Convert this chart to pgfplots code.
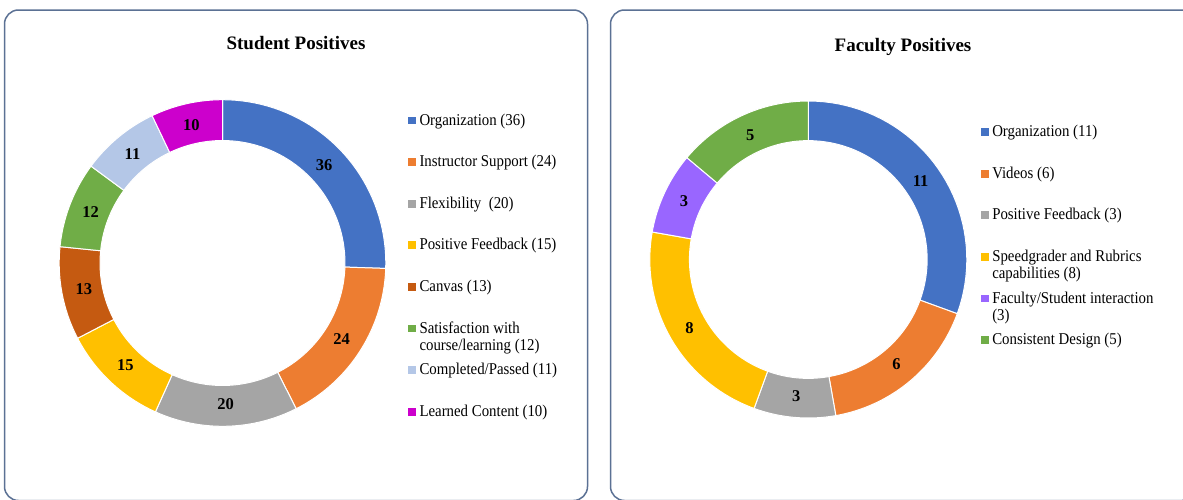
\documentclass[border=0pt]{standalone}
\usepackage{fontspec}
\setmainfont{Liberation Serif}
\newfontfamily\legfont{Liberation Serif}[FakeStretch=0.9]
\usepackage{pgfplots}
\pgfplotsset{compat=1.18}

\definecolor{sBlue}{HTML}{4472C4}
\definecolor{sOrange}{HTML}{ED7D31}
\definecolor{sGray}{HTML}{A5A5A5}
\definecolor{sGold}{HTML}{FFC000}
\definecolor{sRust}{HTML}{C55A11}
\definecolor{sGreen}{HTML}{70AD47}
\definecolor{sLight}{HTML}{B4C7E7}
\definecolor{sMag}{HTML}{CC00CC}
\definecolor{fPurple}{HTML}{9966FF}
\definecolor{boxc}{HTML}{5B7194}

\newcommand{\mtwo}[2]{\begin{tabular}[t]{@{}l@{}}#1\\#2\end{tabular}}
\newcommand{\labelfont}{\fontsize{16.5bp}{18bp}\selectfont\bfseries}

% #1 total, #2 list value/colour
\newcommand{\donutslices}[2]{%
  \gdef\cum{0}%
  \foreach \val/\col in {#2} {%
    \pgfmathsetmacro{\sa}{90-\cum/#1*360}%
    \pgfmathsetmacro{\newcum}{\cum+\val}%
    \pgfmathsetmacro{\sb}{90-\newcum/#1*360}%
    \pgfmathsetmacro{\sd}{\sb-\sa}%
    \global\let\cum\newcum
    \edef\cmd{\noexpand\addplot[fill=\col, draw=white, line width=1bp, domain=0:3, samples=121]
      ({(1-0.25*min(max(x-1,0),1))*cos((\sa)+(\sd)*min(x,1)-(\sd)*max(x-2,0))},
       {(1-0.25*min(max(x-1,0),1))*sin((\sa)+(\sd)*min(x,1)-(\sd)*max(x-2,0))}) -- cycle;}%
    \cmd
  }%
  \gdef\cum{0}%
  \foreach \val/\col in {#2} {%
    \pgfmathsetmacro{\newcum}{\cum+\val}%
    \pgfmathsetmacro{\sm}{90-(\cum+\newcum)/2/#1*360}%
    \pgfmathsetmacro{\lx}{0.865*cos(\sm)}%
    \pgfmathsetmacro{\ly}{0.865*sin(\sm)}%
    \global\let\cum\newcum
    \edef\cmd{\noexpand\addplot[forget plot, draw=none, mark=none, nodes near coords,
      point meta=explicit symbolic,
      nodes near coords style={anchor=center, font=\noexpand\labelfont, text=black}]
      coordinates {(\lx,\ly) [\val]};}%
    \cmd
  }%
}

\pgfplotsset{
  donut/.style={
    anchor=center, scale only axis,
    xmin=-1, xmax=1, ymin=-1, ymax=1,
    axis lines=none, clip=false,
    legend image code/.code={\fill[##1, draw=none] (0bp,0.7bp) rectangle (8bp,8.5bp);},
    legend style={draw=none, fill=none, inner sep=0pt, outer sep=0pt,
      anchor=north west, row sep=26.6bp, column sep=3.5bp,
      font=\legfont\fontsize{16.5bp}{17.4bp}\selectfont,
      nodes={inner sep=0pt, text height=11bp, text depth=4bp, text=black},
      cells={anchor=base west}},
  }
}

\begin{document}
\begin{tikzpicture}
\useasboundingbox (0,0) rectangle (1183bp,-500bp);
\clip (0,0) rectangle (1183bp,-500bp);
\fill[white] (0,0) rectangle (1183bp,-500bp);

\draw[boxc, line width=1.5bp, rounded corners=14bp] (4.5bp,-10bp) rectangle (587.5bp,-500.5bp);
\draw[boxc, line width=1.5bp, rounded corners=14bp] (610.5bp,-10bp) rectangle (1196bp,-500.5bp);

\node[anchor=base, font=\fontsize{19bp}{22bp}\selectfont\bfseries] at (296bp,-49bp) {Student Positives};
\node[anchor=base, font=\fontsize{19bp}{22bp}\selectfont\bfseries] at (903bp,-51.5bp) {Faculty Positives};

\begin{axis}[donut, at={(222.5bp,-263bp)}, width=326.6bp, height=326.6bp,
  legend style={at={(1.068,0.956)}}]
\donutslices{141}{36/sBlue, 24/sOrange, 20/sGray, 15/sGold, 13/sRust, 12/sGreen, 11/sLight, 10/sMag}
\legend{Organization (36), Instructor Support (24), Flexibility\ \ (20), Positive Feedback (15), Canvas (13), \mtwo{Satisfaction with}{course/learning (12)}, Completed/Passed (11), Learned Content (10)}
\end{axis}

\begin{axis}[donut, at={(808.3bp,-259.5bp)}, width=317bp, height=317bp,
  legend style={at={(1.044,0.922)}}]
\donutslices{36}{11/sBlue, 6/sOrange, 3/sGray, 8/sGold, 3/fPurple, 5/sGreen}
\legend{Organization (11), Videos (6), Positive Feedback (3), \mtwo{Speedgrader and Rubrics}{capabilities (8)}, \mtwo{Faculty/Student interaction}{(3)}, Consistent Design (5)}
\end{axis}
\end{tikzpicture}
\end{document}
